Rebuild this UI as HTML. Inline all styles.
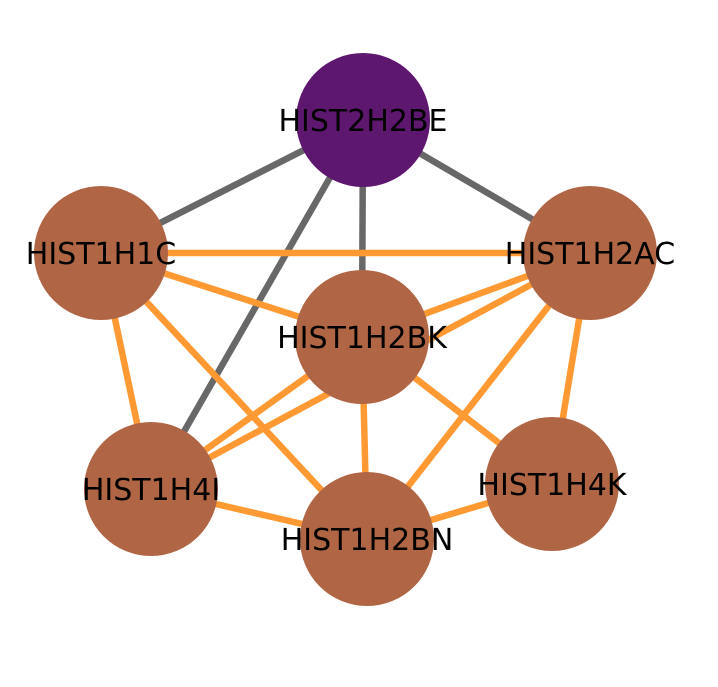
<!DOCTYPE html>
<html><head><meta charset="utf-8"><style>html,body{margin:0;padding:0;background:#fff}</style></head>
<body>
<svg width="718" height="682" viewBox="0 0 718 682" xmlns="http://www.w3.org/2000/svg">
<g stroke-width="6.5" stroke-linecap="butt">
<g stroke="#686868">
<line x1="363" y1="120" x2="101" y2="253"/>
<line x1="363" y1="120" x2="590" y2="253"/>
<line x1="363" y1="120" x2="362" y2="337"/>
<line x1="363" y1="120" x2="151" y2="489"/>
</g>
<g stroke="#ff9933">
<line x1="101" y1="253" x2="590" y2="253"/>
<line x1="101" y1="253" x2="362" y2="337"/>
<line x1="101" y1="253" x2="151" y2="489"/>
<line x1="101" y1="253" x2="367" y2="539"/>
<line x1="590" y1="253" x2="362" y2="337"/>
<line x1="590" y1="253" x2="151" y2="489"/>
<line x1="590" y1="253" x2="367" y2="539"/>
<line x1="590" y1="253" x2="552" y2="484"/>
<line x1="362" y1="337" x2="552" y2="484"/>
<line x1="362" y1="337" x2="367" y2="539"/>
<line x1="362" y1="337" x2="151" y2="489"/>
<line x1="151" y1="489" x2="367" y2="539"/>
<line x1="367" y1="539" x2="552" y2="484"/>
</g>
</g>
<circle cx="363" cy="120" r="67" fill="#5e176e"/>
<g fill="#b06645">
<circle cx="101" cy="253" r="67"/>
<circle cx="590" cy="253" r="67"/>
<circle cx="362" cy="337" r="67"/>
<circle cx="151" cy="489" r="67"/>
<circle cx="552" cy="484" r="67"/>
<circle cx="367" cy="539" r="67"/>
</g>
<g font-family="DejaVu Sans, sans-serif" font-size="30" text-anchor="middle" fill="#000">
<text x="363" y="131">HIST2H2BE</text>
<text x="101" y="264">HIST1H1C</text>
<text x="590" y="264">HIST1H2AC</text>
<text x="362" y="348">HIST1H2BK</text>
<text x="151" y="500">HIST1H4I</text>
<text x="552" y="495">HIST1H4K</text>
<text x="367" y="550">HIST1H2BN</text>
</g>
</svg>
</body></html>
